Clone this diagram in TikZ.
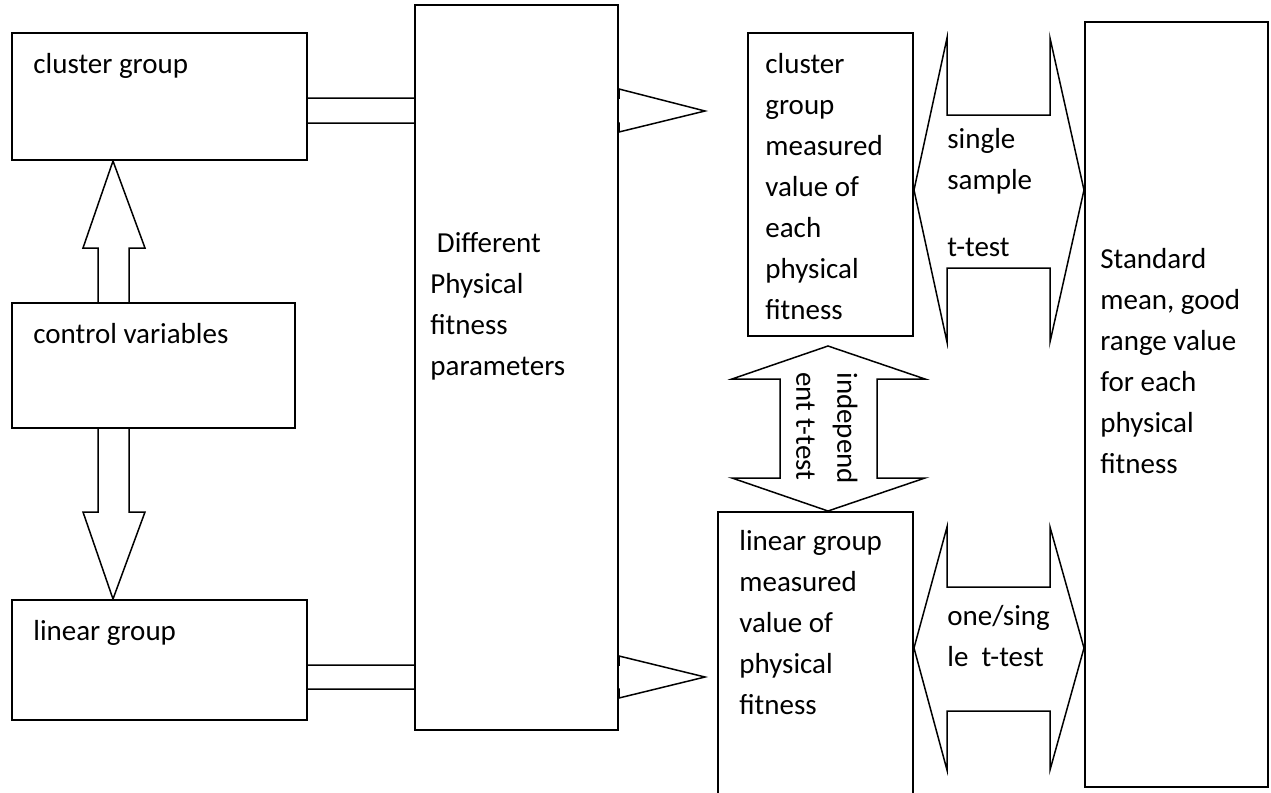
\documentclass[tikz,border=0pt]{standalone}
\usepackage{fontspec}
\setmainfont{Carlito}
\usetikzlibrary{fit,backgrounds}
\tikzset{
  box/.style={draw, line width=1pt, fill=white, inner sep=0pt},
  txt/.style={align=left, inner sep=0pt, anchor=north west, font=\fontsize{14.5pt}{20.5pt}\selectfont},
  blk/.style={draw, line width=0.75pt, fill=white, line join=miter}
}

\begin{document}
\begin{tikzpicture}[x=0.5pt, y=-0.5pt]
  \useasboundingbox (0,0) rectangle (1271,793);
  \clip (0,0) rectangle (1271,793);

  \node [box, fit={(12,33) (307,160)}] (cluster) {};
  \node [box, fit={(12,303) (295,428)}] (control) {};
  \node [box, fit={(12,600) (307,720)}] (linear) {};
  \node [box, fit={(415,5) (618,730)}] (params) {};
  \node [box, fit={(748,33) (913,336)}] (clusterM) {};
  \node [box, fit={(718,512) (913,810)}] (linearM) {};
  \node [box, fit={(1085,22) (1268,787)}] (standard) {};

  \node at (33,53) [txt] (clusterT) {cluster group};
  \node at (33,323) [txt] (controlT) {control variables};
  \node at (33,620) [txt] (linearT) {linear group};
  \node at (430,232) [txt] (paramsT) {\ Different\\Physical\\fitness\\parameters};
  \node at (765,53) [txt] (clusterMT) {cluster\\group\\measured\\value of\\each\\physical\\fitness};
  \node at (739,530) [txt] (linearMT) {linear group\\measured\\value of\\physical\\fitness};
  \node at (1100,248) [txt] (standardT) {Standard\\mean, good\\range value\\for each\\physical\\fitness};
  \node at (947,128) [txt] (singleT) {single\\sample\\[13pt]t-test};
  \node at (947,605) [txt] (oneT) {one/sing\\le\ \ t-test};
  \node at (858,372) [txt, rotate=-90] (indepT) {independ\\ent t-test};

  \begin{scope}[on background layer]
    \fill[white] (0,0) rectangle (1271,793);
    \draw[blk] (cluster.east |- 0,98) -- (params.east |- 0,98) -- (params.east |- 0,89) -- (705,111) -- (params.east |- 0,132) -- (params.east |- 0,123) -- (cluster.east |- 0,123);
    \draw[blk] (linear.east |- 0,665) -- (params.east |- 0,665) -- (params.east |- 0,656) -- (705,677) -- (params.east |- 0,698) -- (params.east |- 0,689) -- (linear.east |- 0,689);
    \draw[blk] (control.north -| 98,0) -- (98,248) -- (83,248) -- (cluster.south -| 113,0) -- (145,248) -- (129,248) -- (control.north -| 129,0);
    \draw[blk] (control.south -| 98,0) -- (98,512) -- (83,512) -- (linear.north -| 113,0) -- (145,512) -- (129,512) -- (control.south -| 129,0);
    \draw[blk] (828,346) -- (925,379) -- (877,379) -- (877,478) -- (925,478) -- (linearM.north -| 828,0) -- (732,478) -- (780,478) -- (780,379) -- (732,379) -- cycle;
    \draw[blk] (clusterM.east |- 0,190) -- (947,38) -- (947,115) -- (1050,115) -- (1050,38) -- (standard.west |- 0,190) -- (1050,342) -- (1050,268) -- (947,268) -- (947,342) -- cycle;
    \draw[blk] (linearM.east |- 0,648) -- (947,527) -- (947,587) -- (1050,587) -- (1050,527) -- (standard.west |- 0,648) -- (1050,770) -- (1050,711) -- (947,711) -- (947,770) -- cycle;
  \end{scope}
\end{tikzpicture}
\end{document}
